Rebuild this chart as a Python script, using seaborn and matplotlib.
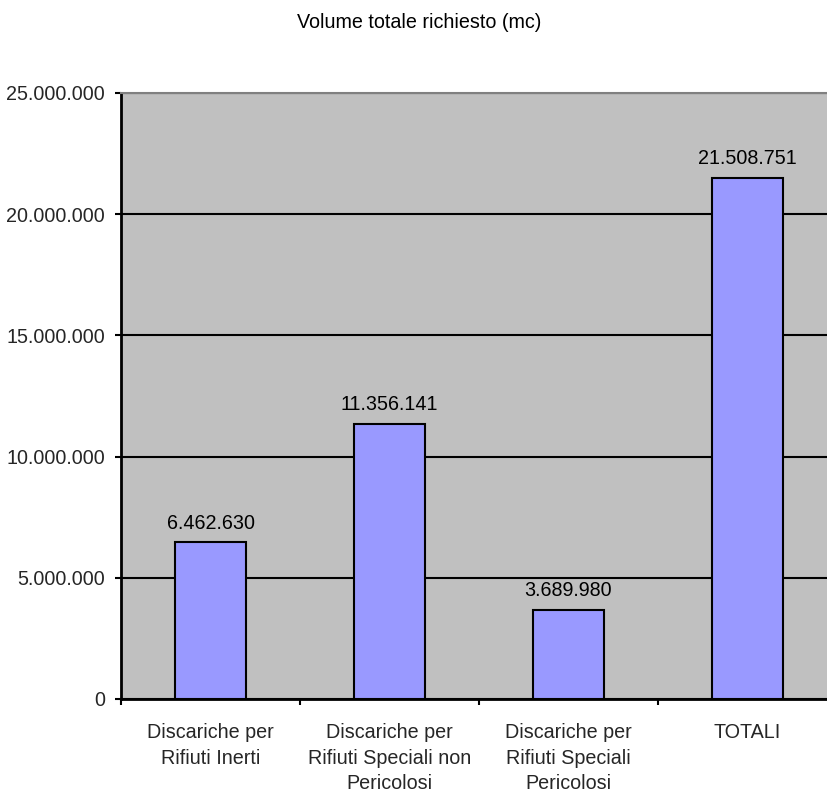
import matplotlib
matplotlib.use("Agg")
import matplotlib.pyplot as plt
from matplotlib.ticker import FuncFormatter, FixedLocator
import seaborn as sns
import pandas as pd

# Volumes required per landfill type (cubic metres)
categories = [
    "Discariche per\nRifiuti Inerti",
    "Discariche per\nRifiuti Speciali non\nPericolosi",
    "Discariche per\nRifiuti Speciali\nPericolosi",
    "TOTALI",
]
volumes = [6462630, 11356141, 3689980, 21508751]
y_ticks = [0, 5000000, 10000000, 15000000, 20000000, 25000000]
title = "Volume totale richiesto (mc)"

sns.set_theme(style="white")
plt.rcParams["font.family"] = ["Liberation Sans", "DejaVu Sans"]

FS = 14.2


def dotted(v, _pos=None):
    return f"{int(round(v)):,}".replace(",", ".")


df = pd.DataFrame({"categoria": categories, "volume": volumes})

fig = plt.figure(figsize=(8.27, 7.93), dpi=100)
ax = fig.add_axes([121 / 827, 94 / 793, 716 / 827, 606 / 793])
ax.set_facecolor("#C0C0C0")

sns.barplot(data=df, x="categoria", y="volume", order=categories,
            color="#9999FF", saturation=1, width=0.4,
            edgecolor="black", linewidth=1.5, ax=ax, zorder=3)

ax.set_ylim(0, 25000000)
ax.set_xlim(-0.5, len(categories) - 0.5)
ax.yaxis.set_major_locator(FixedLocator(y_ticks))
ax.yaxis.set_major_formatter(FuncFormatter(dotted))
ax.grid(axis="y", color="black", linewidth=1.5, zorder=1)
ax.set_axisbelow(True)
ax.set_xlabel("")
ax.set_ylabel("")

# Category separators as tick marks between groups
ax.set_xticks([i - 0.5 for i in range(len(categories) + 1)], minor=True)
ax.tick_params(axis="x", which="minor", length=4.5, width=1.5, color="black",
               direction="out", bottom=True)
ax.tick_params(axis="x", which="major", length=0, pad=17.5, labelsize=FS)
ax.tick_params(axis="y", which="major", length=4.5, width=1.5, color="black",
               direction="out", left=True, pad=7, labelsize=FS)
for lab in ax.get_xticklabels():
    lab.set_linespacing(1.42)
    lab.set_ha("center")

for side in ("left", "bottom"):
    ax.spines[side].set_color("black")
    ax.spines[side].set_linewidth(2)
ax.spines["top"].set_color("#808080")
ax.spines["top"].set_linewidth(1.5)
ax.spines["right"].set_visible(False)

for container in ax.containers:
    ax.bar_label(container, labels=[dotted(v) for v in volumes],
                 padding=7, fontsize=FS, color="black")

fig.text(419 / 827, 1 - 23 / 793, title, ha="center", va="center",
         fontsize=FS, color="black")

fig.savefig("out.png", dpi=100, facecolor="white")
